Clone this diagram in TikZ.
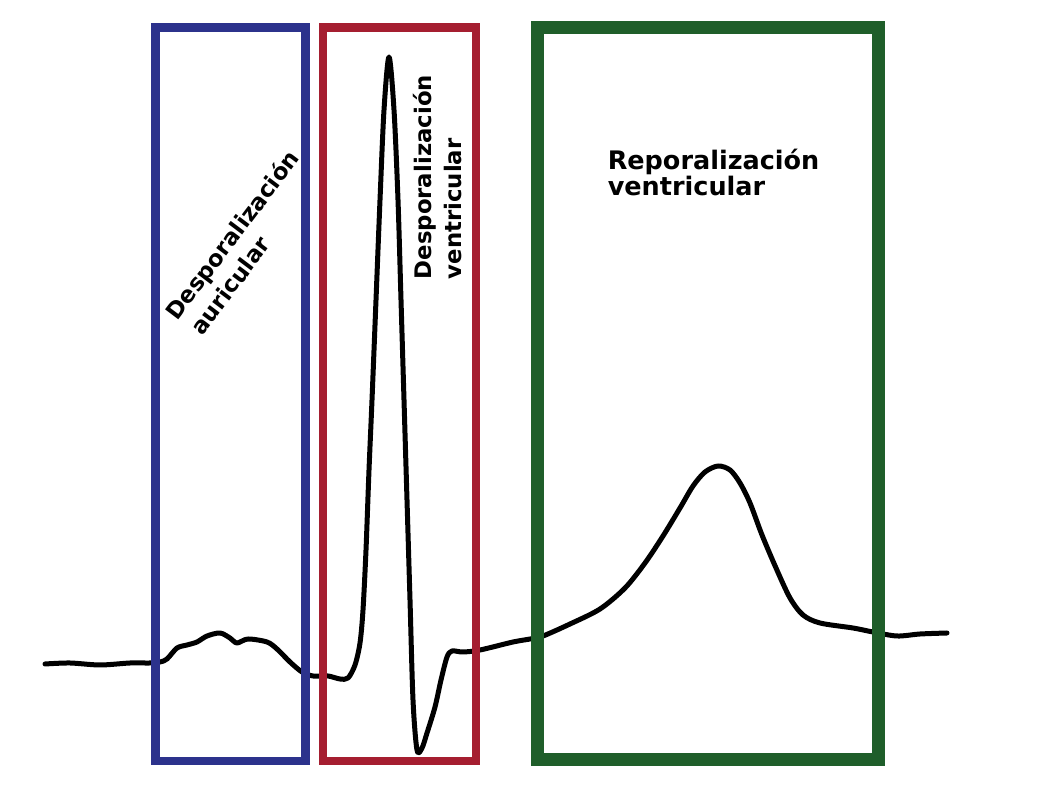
\documentclass[tikz,border=0pt]{standalone}
\usepackage{fontspec}
\newfontfamily\labfont{DejaVu Sans}
\definecolor{pblue}{RGB}{44,50,140}
\definecolor{qred}{RGB}{165,30,48}
\definecolor{tgreen}{RGB}{31,94,42}
\tikzset{
  ecg/.style={line width=1.25pt, line join=round, line cap=round, black},
  wavebox/.style={line width=2.125pt, line join=miter},
  lab/.style={font=\labfont\bfseries\fontsize{5.7}{6.75}\selectfont, inner sep=0pt, anchor=base west},
  labbig/.style={font=\labfont\bfseries\fontsize{6.375}{7.25}\selectfont, inner sep=0pt, anchor=base west}
}
\begin{document}
\begin{tikzpicture}[x=0.25pt,y=0.25pt]
\useasboundingbox (0,0) rectangle (1037,-809);
\fill[white] (0,0) rectangle (1037,-809);
% ECG trace
\draw[ecg] plot[smooth, tension=0.5] coordinates {
(45,-664) (70,-663) (100,-665) (130,-663) (150,-663) (160,-662) (167,-659) (177,-648)
(187,-645) (197,-642) (207,-636) (220,-633) (230,-638) (237,-643) (248,-639) (267,-642)
(277,-649) (290,-662) (302,-672) (313,-676) (328,-676) (340,-679) (348,-678) (355,-665)
(360,-643) (363,-610) (366,-550) (369,-470) (372,-400) (376,-300) (380,-200) (384,-110)
(389,-57) (394,-110) (398,-200) (401,-300) (404,-400) (407,-500) (410,-600) (413,-700)
(417,-750) (422,-748) (427,-733) (435,-707) (441,-680) (447,-657) (452,-651) (463,-652)
(480,-650) (513,-642) (530,-639) (543,-636) (570,-624) (600,-609) (625,-588) (645,-563)
(663,-536) (680,-508) (693,-486) (705,-472) (718,-466) (730,-470) (740,-483) (750,-503)
(762,-535) (776,-568) (790,-598) (803,-615) (820,-623) (853,-628) (873,-632) (897,-636)
(920,-634) (947,-633)};
% boxes
\draw[wavebox, pblue] (155.5,-27.5) rectangle (305.5,-761);
\draw[wavebox, qred] (323,-27.5) rectangle (476,-761);
\draw[wavebox, tgreen, line width=3.25pt] (537.5,-28) rectangle (878,-760);
% labels
\node[lab, rotate=53] (pa) at (177,-322) {Desporalización};
\node[lab, rotate=53] (pb) at (202,-337) {auricular};
\node[lab, rotate=90] (qa) at (431,-280) {Desporalización};
\node[lab, rotate=90] (qb) at (461,-280) {ventricular};
\node[labbig] (ta) at (607,-170) {Reporalización};
\node[labbig] (tb) at (607,-196) {ventricular};
\end{tikzpicture}
\end{document}
